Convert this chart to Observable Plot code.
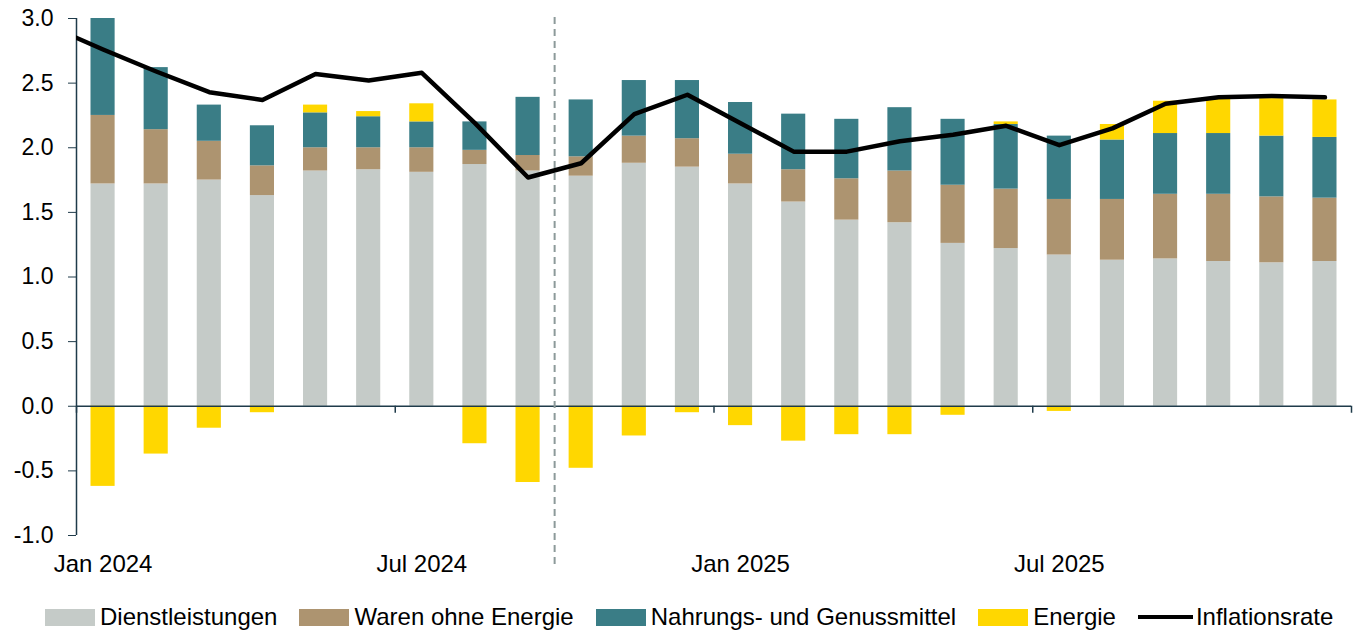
<!DOCTYPE html>
<html>
<head>
<meta charset="utf-8">
<script src="https://cdn.jsdelivr.net/npm/d3@7"></script>
<script src="https://cdn.jsdelivr.net/npm/@observablehq/plot@0.6"></script>
<style>
  html, body { margin: 0; padding: 0; background: #fff; }
  body { width: 1353px; font-family: "Liberation Sans", Arial, sans-serif; }
  #legend { display: flex; align-items: center; padding-top: 13px; padding-left: 45px; height: 28px; font-size: 24px; color: #000; white-space: nowrap; }
  .item { display: flex; align-items: center; margin-right: 22px; }
  .sw { width: 50px; height: 17px; margin-right: 5px; }
  .ln { width: 55px; height: 4px; background: #000; margin-right: 3px; }
</style>
</head>
<body>
<div id="chart"></div>
<div id="legend"></div>
<script>
// ---- data ----
const months = ["2024-01","2024-02","2024-03","2024-04","2024-05","2024-06","2024-07","2024-08","2024-09","2024-10","2024-11","2024-12",
                "2025-01","2025-02","2025-03","2025-04","2025-05","2025-06","2025-07","2025-08","2025-09","2025-10","2025-11","2025-12"];
const series = ["Dienstleistungen", "Waren ohne Energie", "Nahrungs- und Genussmittel", "Energie"];
const colors = ["#c5cbc8", "#ad9470", "#3a7d86", "#ffd700"];
const dienstleistungen = [1.72,1.72,1.75,1.63,1.82,1.83,1.81,1.87,1.82,1.78,1.88,1.85,1.72,1.58,1.44,1.42,1.26,1.22,1.17,1.13,1.14,1.12,1.11,1.12];
const warenOhneEnergie = [0.53,0.42,0.30,0.23,0.18,0.17,0.19,0.11,0.12,0.15,0.21,0.22,0.23,0.25,0.32,0.40,0.45,0.46,0.43,0.47,0.50,0.52,0.51,0.49];
const nahrungsmittel   = [0.76,0.48,0.28,0.31,0.27,0.24,0.20,0.22,0.45,0.44,0.43,0.45,0.40,0.43,0.46,0.49,0.51,0.50,0.49,0.46,0.47,0.47,0.47,0.47];
const energie          = [-0.62,-0.37,-0.17,-0.05,0.06,0.04,0.14,-0.29,-0.59,-0.48,-0.23,-0.05,-0.15,-0.27,-0.22,-0.22,-0.07,0.02,-0.04,0.12,0.25,0.27,0.29,0.29];
const inflationDec2023 = 2.94;
const inflationsrate   = [2.76,2.59,2.43,2.37,2.57,2.52,2.58,2.19,1.77,1.88,2.26,2.41,2.19,1.97,1.97,2.05,2.10,2.17,2.02,2.15,2.34,2.39,2.40,2.39];
const tickMonths = ["2024-01","2024-07","2025-01","2025-07"];
const tickLabels = ["Jan 2024","Jul 2024","Jan 2025","Jul 2025"];
const boundaryMonths = ["2024-01","2024-07","2025-01","2025-07","2026-01"];
const forecastStart = "2024-10";
const yTicks = [-1.0,-0.5,0.0,0.5,1.0,1.5,2.0,2.5,3.0];

// ---- derived tables ----
const seriesValues = [dienstleistungen, warenOhneEnergie, nahrungsmittel, energie];
const rows = months.flatMap((m, i) => series.map((s, k) => ({i, m, s, v: seriesValues[k][i]})));
const lineData = [{x: -0.5, v: inflationDec2023}, ...inflationsrate.map((v, i) => ({x: i + 0.5, v}))];
const monthIndex = m => { const [y, mo] = m.split("-").map(Number); return (y - 2024) * 12 + (mo - 1); };
const tickPos = tickMonths.map(m => monthIndex(m) + 0.5);
const boundaries = boundaryMonths.map(monthIndex);
const forecastX = monthIndex(forecastStart);
const axisColor = "#1f3b4a";

const chart = Plot.plot({
  width: 1353,
  height: 590,
  marginLeft: 76,
  marginRight: 2,
  marginTop: 18,
  marginBottom: 55,
  x: {domain: [0, 24], axis: null},
  y: {domain: [-1, 3], axis: null},
  color: {domain: series, range: colors},
  style: {fontFamily: "'Liberation Sans', Arial, sans-serif", fontSize: "23px", color: "#000", background: "#fff", overflow: "visible"},
  marks: [
    Plot.rectY(rows, Plot.stackY({x1: "i", x2: d => d.i + 1, y: "v", fill: "s", order: series, insetLeft: 14.5, insetRight: 14.5, clip: true})),
    Plot.ruleY([0], {stroke: axisColor, strokeWidth: 1.5}),
    Plot.ruleX([0], {stroke: axisColor, strokeWidth: 1.5}),
    Plot.ruleX(boundaries, {y1: 0, y2: 0, insetBottom: -7, stroke: axisColor, strokeWidth: 1.5}),
    Plot.ruleX([forecastX], {stroke: "#8c9a9a", strokeWidth: 2, strokeDasharray: "7,5", insetTop: -1, insetBottom: -33}),
    Plot.line(lineData, {x: "x", y: "v", stroke: "#000", strokeWidth: 4.5, clip: true}),
    Plot.axisY({ticks: yTicks, tickFormat: d => d.toFixed(1), tickSize: 8, tickPadding: 15, stroke: axisColor, fill: "#000", fontSize: 23, label: null}),
    Plot.axisX({ticks: tickPos, tickFormat: (d) => tickLabels[tickPos.indexOf(d)], tickSize: 0, tickPadding: 19, fill: "#000", fontSize: 24, label: null})
  ]
});
document.getElementById("chart").appendChild(chart);

// ---- legend ----
const legend = document.getElementById("legend");
series.forEach((s, k) => {
  const it = document.createElement("div");
  it.className = "item";
  const sw = document.createElement("div");
  sw.className = "sw";
  sw.style.background = colors[k];
  const t = document.createElement("span");
  t.textContent = s;
  it.appendChild(sw); it.appendChild(t);
  legend.appendChild(it);
});
const li = document.createElement("div");
li.className = "item";
const ln = document.createElement("div");
ln.className = "ln";
const lt = document.createElement("span");
lt.textContent = "Inflationsrate";
li.appendChild(ln); li.appendChild(lt);
legend.appendChild(li);
</script>
</body>
</html>
